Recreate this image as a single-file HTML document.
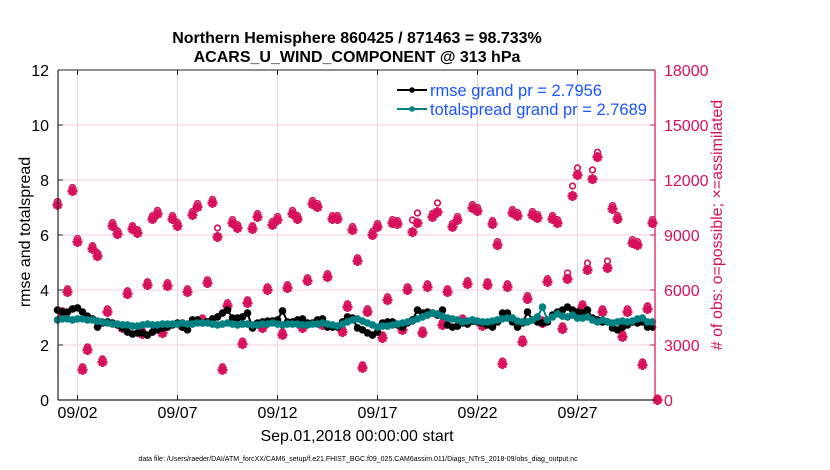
<!DOCTYPE html>
<html><head><meta charset="utf-8">
<style>
html,body{margin:0;padding:0;background:#fff;}
svg{display:block;font-family:"Liberation Sans",Arial,sans-serif;}
</style></head>
<body>
<svg id="chart" width="830" height="470" viewBox="0 0 830 470" xmlns="http://www.w3.org/2000/svg">
  <rect x="0" y="0" width="830" height="470" fill="#fff"/>
  <text x="357" y="43" font-size="16" font-weight="bold" text-anchor="middle" fill="#000">Northern Hemisphere 860425 / 871463 = 98.733%</text>
  <text x="357" y="62" font-size="16" font-weight="bold" text-anchor="middle" fill="#000">ACARS_U_WIND_COMPONENT @ 313 hPa</text>
  <g id="grid"></g>
  <g id="obs"></g>
  <g id="lines"></g>
  <g id="axes"></g>
  <g id="legend">
    <line x1="397" y1="90" x2="427" y2="90" stroke="#000" stroke-width="2"/>
    <circle cx="412" cy="90" r="2.8" fill="#000"/>
    <text x="430" y="96" font-size="16.5" fill="#1a55ff">rmse grand pr = 2.7956</text>
    <line x1="397" y1="109" x2="427" y2="109" stroke="#008080" stroke-width="2"/>
    <circle cx="412" cy="109" r="2.8" fill="#008080"/>
    <text x="430" y="115" font-size="16.5" fill="#1a55ff">totalspread grand pr = 2.7689</text>
  </g>
  <text transform="translate(30,232) rotate(-90)" font-size="16" text-anchor="middle" fill="#000">rmse and totalspread</text>
  <text transform="translate(722,225) rotate(-90)" font-size="16" text-anchor="middle" fill="#d6105a"># of obs: o=possible; ×=assimilated</text>
  <text x="357" y="441" font-size="16" text-anchor="middle" fill="#000">Sep.01,2018 00:00:00 start</text>
  <text x="358" y="461" font-size="7" text-anchor="middle" fill="#000">data file: /Users/raeder/DAI/ATM_forcXX/CAM6_setup/f.e21.FHIST_BGC.f09_025.CAM6assim.011/Diags_NTrS_2018-09/obs_diag_output.nc</text>
</svg>
<script>
const rmse = [3.27,3.20,3.20,3.31,3.35,3.20,3.05,2.95,2.65,2.80,
2.84,2.80,2.73,2.62,2.47,2.40,2.44,2.44,2.36,2.47,
2.55,2.62,2.65,2.73,2.80,2.65,2.55,2.91,2.91,2.80,
2.84,2.95,3.02,3.16,3.27,2.98,2.98,3.02,3.16,2.62,
2.80,2.84,2.87,2.87,2.91,3.24,2.84,2.84,2.91,2.95,
2.80,2.80,2.91,2.95,2.65,2.65,2.65,2.84,3.02,2.98,
2.62,2.55,2.44,2.36,2.47,2.80,2.84,2.84,2.73,2.65,
2.80,2.91,3.27,3.16,3.20,3.16,3.09,3.27,2.73,2.65,
2.69,2.80,2.76,2.87,2.84,2.80,2.73,2.65,2.84,3.16,
3.16,2.84,2.65,2.80,3.20,2.91,2.84,2.80,2.84,3.09,
3.20,3.27,3.38,3.27,3.20,3.16,3.27,2.98,2.91,2.84,
2.84,2.62,2.55,2.65,2.73,2.84,2.80,2.84,2.65,2.65];
const spread = [2.91,2.95,2.95,2.91,2.95,2.95,2.91,2.91,2.87,2.84,
2.80,2.76,2.76,2.73,2.73,2.69,2.69,2.73,2.76,2.73,
2.73,2.76,2.76,2.76,2.76,2.80,2.76,2.76,2.80,2.80,
2.80,2.76,2.73,2.76,2.80,2.76,2.73,2.76,2.76,2.73,
2.73,2.76,2.76,2.80,2.76,2.73,2.76,2.76,2.76,2.73,
2.73,2.76,2.76,2.80,2.76,2.73,2.69,2.76,2.84,2.91,
2.95,2.87,2.80,2.73,2.65,2.69,2.69,2.73,2.76,2.80,
2.84,2.87,2.95,3.02,3.09,3.16,3.13,3.05,2.98,2.95,
2.91,2.84,2.87,2.91,2.87,2.84,2.84,2.87,2.91,2.95,
2.98,2.98,2.87,2.84,2.84,2.91,3.02,3.38,2.91,3.02,
3.13,3.05,3.02,3.09,2.98,2.98,3.02,2.91,2.84,2.91,
2.84,2.80,2.84,2.87,2.84,2.87,2.95,2.98,2.84,2.84];
const obsAssim = [10640,4690,5890,11400,8620,1640,2730,8240,7850,2070,
4800,9490,9050,3930,5780,9330,9110,3600,6270,9870,
10150,3650,6220,9870,9490,4040,5890,10090,10530,4310,
6380,10750,8890,1640,5130,9650,9380,3050,5290,9330,
9980,3930,6000,9550,9820,3550,6110,10150,9870,3930,
6490,10690,10530,4090,6710,9870,9870,3710,5070,9270,
7580,1750,4800,9000,9440,3380,5450,9650,9600,3820,
6000,9160,9650,3650,6160,9980,10250,4090,5890,9440,
9820,4310,6330,10470,10310,4040,6270,9600,8450,1960,
6160,10200,10040,3160,5510,10090,9930,4200,6440,9870,
9650,3870,6600,11130,12270,5070,7090,12050,13250,4800,
7200,10420,9870,3440,4800,8560,8450,1910,4960,9650,
0];
const obsPoss = [10720,4760,5960,11480,8700,1700,2790,8310,7920,2130,
4870,9570,9120,3990,5850,9400,9180,3660,6340,9940,
10230,3710,6290,9950,9570,4100,5960,10170,10610,4370,
6450,10830,9270,1700,5200,9730,9450,3110,5360,9400,
10060,3990,6070,9630,9900,3610,6180,10230,9950,3990,
6560,10770,10610,4150,6780,9950,9950,3770,5140,9350,
7650,1810,4870,9080,9520,3440,5520,9730,9680,3880,
6070,9710,10090,3710,6230,10060,10640,4150,5960,9520,
9900,4370,6400,10550,10390,4100,6340,9680,8530,2020,
6230,10280,10120,3220,5580,10170,10010,4260,6510,9950,
9730,3930,6820,11560,12550,5140,7360,12440,13400,4870,
7470,10500,9950,3500,4870,8640,8530,1970,5030,9730,
0];
const xTickDays = [1,6,11,16,21,26];
const xTickLabels = ["09/02","09/07","09/12","09/17","09/22","09/27"];
const yLeftTicks = [0,2,4,6,8,10,12];
const yRightTicks = [0,3000,6000,9000,12000,15000,18000];
const stepDays = 0.25;

const L=58, R=655, T=70, B=400;
const X0=57.5, PX_DAY=20;
const xs = d => X0 + d*PX_DAY;
const yl = v => B - (v/12)*(B-T);
const yr = v => B - (v/18000)*(B-T);
const NS="http://www.w3.org/2000/svg";
function mk(tag, attrs, parent){const e=document.createElementNS(NS,tag);for(const k in attrs)e.setAttribute(k,attrs[k]);parent.appendChild(e);return e;}
const grid=document.getElementById('grid'), axes=document.getElementById('axes'), obs=document.getElementById('obs'), lines=document.getElementById('lines');
const PINK="#d6105a";

xTickDays.forEach((d,i)=>{
  const x=xs(d);
  const g=mk('line',{x1:x,y1:T,x2:x,y2:B,stroke:"#dcdcdc","stroke-width":1},grid);
  
  
  mk('line',{x1:x,y1:B,x2:x,y2:B-5,stroke:"#222","stroke-width":1},axes);
  mk('line',{x1:x,y1:T,x2:x,y2:T+5,stroke:"#222","stroke-width":1},axes);
  const t=mk('text',{x:x,y:B+18,"font-size":16,"text-anchor":"middle",fill:"#000"},axes);
  t.textContent=xTickLabels[i];
  
  
});
yRightTicks.forEach(v=>{
  const y=yr(v);
  if(v>0 && v<18000){
    const g=mk('line',{x1:L,y1:y,x2:R,y2:y,stroke:"#f6d0de","stroke-width":1},grid);
    
    
  }
  mk('line',{x1:R,y1:y,x2:R-5,y2:y,stroke:PINK,"stroke-width":1},axes);
  const t=mk('text',{x:R+9,y:y+6,"font-size":16,fill:PINK},axes);
  t.textContent=v;
  
  
});
yLeftTicks.forEach(v=>{
  const y=yl(v);
  mk('line',{x1:L,y1:y,x2:L+5,y2:y,stroke:"#222","stroke-width":1},axes);
  const t=mk('text',{x:L-9,y:y+6,"font-size":16,"text-anchor":"end",fill:"#000"},axes);
  t.textContent=v;
  
  
});
mk('line',{x1:L,y1:T,x2:R,y2:T,stroke:"#222","stroke-width":1},axes);
mk('line',{x1:L,y1:B,x2:R,y2:B,stroke:"#222","stroke-width":1.2},axes);
mk('line',{x1:L,y1:T,x2:L,y2:B,stroke:"#222","stroke-width":1.2},axes);
mk('line',{x1:R,y1:T,x2:R,y2:B,stroke:PINK,"stroke-width":1.2},axes);

obsPoss.forEach((v,i)=>{
  const c=mk('circle',{cx:xs(i*stepDays),cy:yr(v)-2,r:2.8,fill:"none",stroke:PINK,"stroke-width":1.7},obs);
  
  
});
obsAssim.forEach((v,i)=>{
  const x=xs(i*stepDays), y=yr(v);
  const p=mk('path',{d:`M${x-5},${y}L${x+5},${y}M${x},${y-5}L${x},${y+5}M${x-3.5},${y-3.5}L${x+3.5},${y+3.5}M${x-3.5},${y+3.5}L${x+3.5},${y-3.5}`,stroke:PINK,"stroke-width":2.8,fill:"none"},obs);
  
  
});

function series(vals,color,name){
  const pts=vals.map((v,i)=>`${xs(i*stepDays)},${yl(v)}`).join(' ');
  const pl=mk('polyline',{points:pts,fill:"none",stroke:color,"stroke-width":2},lines);
  
  
  vals.forEach((v,i)=>{
    const c=mk('circle',{cx:xs(i*stepDays),cy:yl(v),r:3.8,fill:color},lines);
    
    
  });
}
series(rmse,"#000","rmse");
series(spread,"#008080","totalspread");
</script>
</body></html>
